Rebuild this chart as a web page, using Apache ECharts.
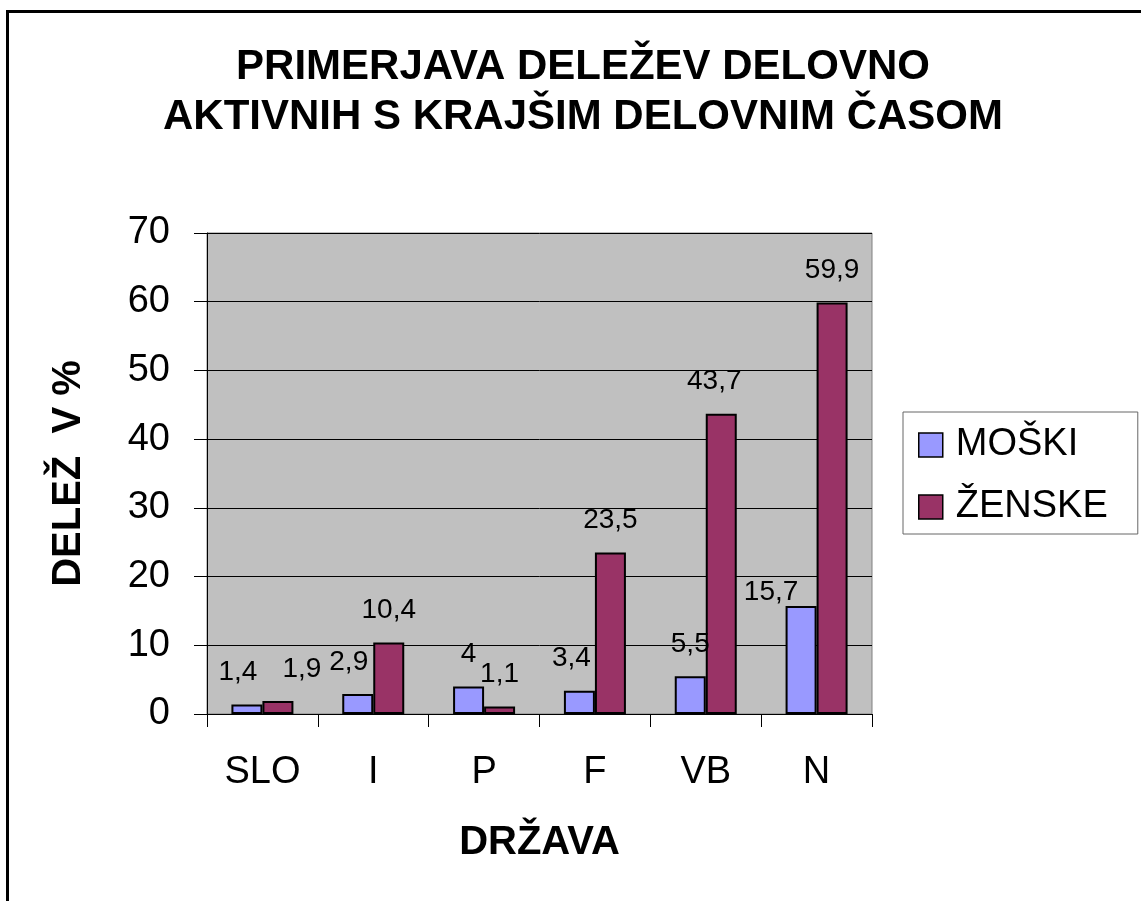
<!DOCTYPE html>
<html>
<head>
<meta charset="utf-8">
<script src="https://cdn.jsdelivr.net/npm/echarts@6/dist/echarts.min.js"></script>
<style>
html, body { margin: 0; padding: 0; background: #fff; overflow: hidden; }
#frame { position: absolute; left: 6px; top: 10px; width: 1200px; height: 960px; border: 3px solid #000; box-sizing: border-box; }
#main { position: absolute; left: 0; top: 0; width: 1141px; height: 901px; }
</style>
</head>
<body>
<div id="frame"></div>
<div id="main"></div>
<script>
var categories = ['SLO', 'I', 'P', 'F', 'VB', 'N'];
var moski = [1.4, 2.9, 4, 3.4, 5.5, 15.7];
var zenske = [1.9, 10.4, 1.1, 23.5, 43.7, 59.9];
var seriesNames = ['MOŠKI', 'ŽENSKE'];

var font = "'Liberation Sans', Arial, sans-serif";
var myChart = echarts.init(document.getElementById('main'));

function commaLabel(p) {
    return String(p.value).replace('.', ',');
}

// Excel nudged a few value labels sideways so they don't collide
var moskiNudge = { 0: [-9, 0], 1: [-9, 0], 3: [-8, 0], 5: [-30, 18] };
var zenskeNudge = { 0: [24, 0], 4: [-7, 0] };

function withNudges(values, nudges) {
    return values.map(function (v, i) {
        if (!nudges[i]) return v;
        return { value: v, label: { offset: nudges[i] } };
    });
}

option = {
    backgroundColor: 'transparent',
    textStyle: { fontFamily: font },
    title: {
        text: 'PRIMERJAVA DELEŽEV DELOVNO\nAKTIVNIH S KRAJŠIM DELOVNIM ČASOM',
        left: 578,
        textAlign: 'center',
        top: 37,
        textStyle: {
            fontFamily: font,
            fontSize: 42,
            fontWeight: 'bold',
            color: '#000',
            lineHeight: 50
        }
    },
    legend: {
        left: 903,
        top: 412,
        orient: 'vertical',
        padding: [14, 30, 8, 15],
        itemGap: 24,
        itemWidth: 24,
        itemHeight: 24,
        borderColor: '#666',
        borderWidth: 1,
        icon: 'rect',
        itemStyle: { borderColor: '#000', borderWidth: 1.5 },
        textStyle: { fontFamily: font, fontSize: 38, color: '#000', padding: [0, 0, 0, 8] },
        data: seriesNames
    },
    grid: {
        left: 207,
        right: 269,
        top: 233,
        bottom: 187,
        show: true,
        backgroundColor: '#C0C0C0',
        borderColor: '#808080',
        borderWidth: 1
    },
    xAxis: {
        type: 'category',
        data: categories,
        name: 'DRŽAVA',
        nameLocation: 'middle',
        nameGap: 109,
        nameTextStyle: { fontFamily: font, fontSize: 40, fontWeight: 'bold', color: '#000' },
        axisLine: { lineStyle: { color: '#000', width: 1 } },
        axisTick: { show: true, length: 13, lineStyle: { color: '#000' } },
        axisLabel: { fontFamily: font, fontSize: 38, color: '#000', margin: 40 }
    },
    yAxis: {
        type: 'value',
        min: 0,
        max: 70,
        interval: 10,
        name: 'DELEŽ  V %',
        nameLocation: 'middle',
        nameRotate: 90,
        nameGap: 118,
        nameTextStyle: { fontFamily: font, fontSize: 40, fontWeight: 'bold', color: '#000' },
        axisLine: { show: true, lineStyle: { color: '#000', width: 1 } },
        axisTick: { show: true, length: 13, lineStyle: { color: '#000' } },
        axisLabel: { fontFamily: font, fontSize: 38, color: '#000', margin: 37 },
        splitLine: { lineStyle: { color: '#000', width: 1 } }
    },
    series: [{
        name: seriesNames[0],
        type: 'bar',
        barWidth: 31,
        barGap: 0,
        itemStyle: { color: '#9999FF', borderColor: '#000', borderWidth: 2 },
        label: {
            show: true, position: 'top', distance: 18,
            fontFamily: font, fontSize: 28, color: '#000',
            formatter: commaLabel
        },
        data: withNudges(moski, moskiNudge)
    }, {
        name: seriesNames[1],
        type: 'bar',
        barWidth: 31,
        barGap: 0,
        itemStyle: { color: '#993366', borderColor: '#000', borderWidth: 2 },
        label: {
            show: true, position: 'top', distance: 18,
            fontFamily: font, fontSize: 28, color: '#000',
            formatter: commaLabel
        },
        data: withNudges(zenske, zenskeNudge)
    }]
};
myChart.setOption(option);
</script>
</body>
</html>
